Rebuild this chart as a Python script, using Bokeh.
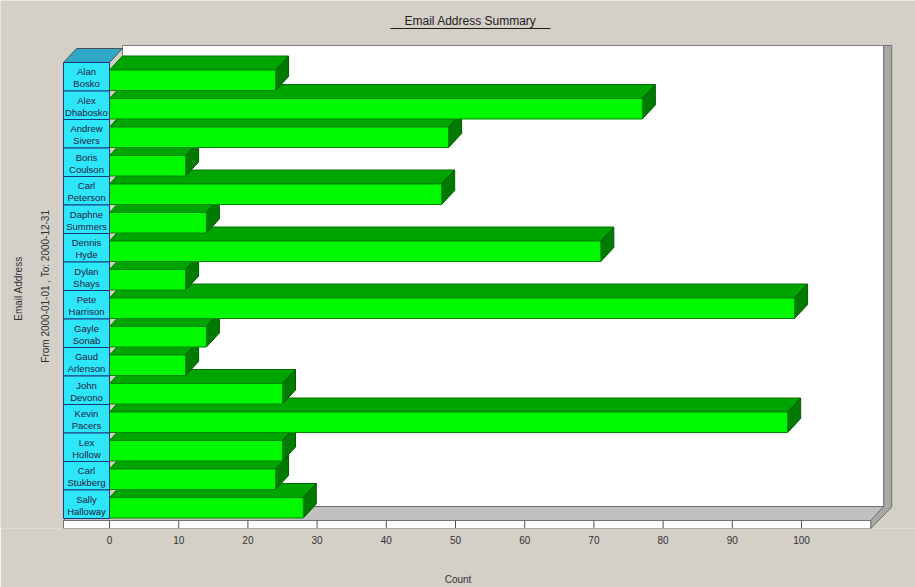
import math
from bokeh.plotting import figure
from bokeh.models import Range1d, FixedTicker, ColumnDataSource
from bokeh.core.properties import value
from bokeh.embed import file_html
from bokeh.resources import INLINE

# ---------------- data ----------------
names = ["Alan Bosko", "Alex Dhabosko", "Andrew Sivers", "Boris Coulson",
         "Carl Peterson", "Daphne Summers", "Dennis Hyde", "Dylan Shays",
         "Pete Harrison", "Gayle Sonab", "Gaud Arlenson", "John Devono",
         "Kevin Pacers", "Lex Hollow", "Carl Stukberg", "Sally Halloway"]
counts = [24, 77, 49, 11, 48, 14, 71, 11, 99, 14, 11, 25, 98, 25, 24, 28]
x_ticks = [0, 10, 20, 30, 40, 50, 60, 70, 80, 90, 100]
x_max = 110
title_text = "Email Address Summary"
y_title = "Email Address"
date_text = "From  2000-01-01 ,  To: 2000-12-31"
x_title = "Count"

# ---------------- layout ----------------
W, H = 915, 587
FRAME_H = 528
PX = 6.92      # pixels per count unit
X0 = 109       # pixel of count 0
ROW = 28.5     # pixels per row
Y0 = 62        # pixel of top of first row
DX = 13 / PX   # 3D depth (x)
DY = 14 / ROW  # 3D depth (rows)
XL = (63 - X0) / PX
BG = "#d4d0c8"
FONT = value("Liberation Sans")

def r_of(px):
    return (px - Y0) / ROW

p = figure(width=W, height=H,
           x_range=Range1d(-X0 / PX, (W - X0) / PX),
           y_range=Range1d((FRAME_H - Y0) / ROW, -Y0 / ROW),
           output_backend="svg", toolbar_location=None,
           y_axis_location=None,
           min_border_left=0, min_border_right=0, min_border_top=0,
           min_border_bottom=H - FRAME_H)
p.xgrid.visible = False
p.ygrid.visible = False
p.outline_line_color = None
p.background_fill_color = BG
p.border_fill_color = BG

n = len(names)
floor_front = r_of(520)
floor_bottom = r_of(528)
wall_top = r_of(45)
floor_back = floor_front - DY

# back wall
p.patch([DX, x_max + DX, x_max + DX, DX],
        [wall_top, wall_top, floor_back, floor_back],
        fill_color="white", line_color="#808080", line_width=1)
# right wall edge
T = 8 / PX
p.patch([x_max + DX, x_max + DX + T, x_max + DX + T, x_max, x_max, x_max + DX],
        [wall_top, wall_top, floor_back + 0.02, floor_bottom, floor_front, floor_back],
        fill_color="#a8a8a8", line_color="#707070", line_width=1)
# floor top
p.patch([XL, x_max, x_max + DX, XL + DX],
        [floor_front, floor_front, floor_back, floor_back],
        fill_color="#c0c0c0", line_color="#707070", line_width=1)
# floor front
p.patch([XL, x_max, x_max, XL],
        [floor_front, floor_front, floor_bottom, floor_bottom],
        fill_color="white", line_color="#707070", line_width=1)
# tick marks on the floor front
p.segment(x0=x_ticks, x1=x_ticks, y0=[floor_bottom] * len(x_ticks),
          y1=[floor_front] * len(x_ticks), line_color="#505050", line_width=1)

# bars (bottom row first so upper bars occlude lower bars' top faces)
xs, ys, fills, lines = [], [], [], []
for i in reversed(range(n)):
    v = counts[i]
    ft = i + r_of(69.5)
    fb = i + r_of(90)
    # top face
    xs.append([0, v, v + DX, DX]); ys.append([ft, ft, ft - DY, ft - DY])
    fills.append("#00a400"); lines.append("#007000")
    # side face
    xs.append([v, v + DX, v + DX, v]); ys.append([ft, ft - DY, fb - DY, fb])
    fills.append("#007a00"); lines.append("#005a00")
    # front face
    xs.append([0, v, v, 0]); ys.append([ft, ft, fb, fb])
    fills.append("#00f800"); lines.append("#008800")
p.patches(xs="xs", ys="ys", fill_color="fill", line_color="line", line_width=1,
          source=ColumnDataSource(dict(xs=xs, ys=ys, fill=fills, line=lines)))

# label column cap
p.patch([XL, 0, DX, XL + DX], [0, 0, -DY, -DY],
        fill_color="#30a8c8", line_color="#505050", line_width=1)
# label cells
p.quad(left=XL, right=0, top=list(range(n)), bottom=[i + 1 for i in range(n)],
       fill_color="#2ee6fa", line_color="#1a3a80", line_width=1)
first = [nm.split(" ")[0] for nm in names]
last = [nm.split(" ", 1)[1] for nm in names]
p.text(x=[XL / 2] * n, y=[i + 0.33 for i in range(n)], text=first,
       text_align="center", text_baseline="middle", text_font=FONT,
       text_font_size="9.5px", text_color="#202040")
p.text(x=[XL / 2] * n, y=[i + 0.75 for i in range(n)], text=last,
       text_align="center", text_baseline="middle", text_font=FONT,
       text_font_size="9.5px", text_color="#202040")

# title with underline
tx = (470 - X0) / PX
p.text(x=[tx], y=[r_of(20)], text=[title_text], text_align="center",
       text_baseline="middle", text_font=FONT, text_font_size="12px",
       text_color="#202020")
p.segment(x0=[tx - 80 / PX], x1=[tx + 80 / PX], y0=[r_of(28)], y1=[r_of(28)],
          line_color="#202020", line_width=1)

# vertical titles
p.text(x=[(18 - X0) / PX], y=[r_of(288)], text=[y_title], angle=math.pi / 2,
       text_align="center", text_baseline="middle", text_font=FONT,
       text_font_size="10px", text_color="#303030")
p.text(x=[(45 - X0) / PX], y=[r_of(283)], text=[date_text], angle=math.pi / 2,
       text_align="center", text_baseline="middle", text_font=FONT,
       text_font_size="10px", text_color="#303030")

# x axis
ax = p.xaxis[0]
ax.ticker = FixedTicker(ticks=x_ticks)
ax.axis_line_color = None
ax.major_tick_in = 0
ax.major_tick_out = 0
ax.major_tick_line_color = None
ax.minor_tick_line_color = None
ax.major_label_standoff = 7
ax.major_label_text_font = "Liberation Sans"
ax.major_label_text_font_size = "10px"
ax.major_label_text_color = "#303030"
ax.axis_label = x_title
ax.axis_label_standoff = 27
ax.axis_label_text_font = "Liberation Sans"
ax.axis_label_text_font_size = "10px"
ax.axis_label_text_font_style = "normal"
ax.axis_label_text_color = "#303030"

open("out.html", "w").write(file_html(p, INLINE))
